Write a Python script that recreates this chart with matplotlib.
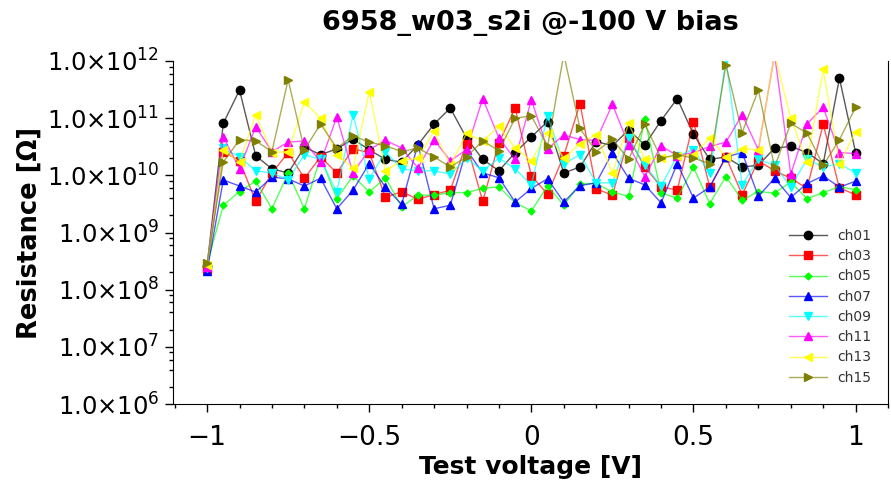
import math

import matplotlib
matplotlib.use("Agg")
import matplotlib.pyplot as plt
from matplotlib.ticker import MultipleLocator, FixedLocator, FuncFormatter, NullFormatter

plt.rcParams["font.family"] = ["DejaVu Sans"]
plt.rcParams["mathtext.default"] = "regular"

# test voltage [V]
VOLTAGE = [-1.00, -0.95, -0.90, -0.85, -0.80, -0.75, -0.70, -0.65, -0.60, -0.55,
           -0.50, -0.45, -0.40, -0.35, -0.30, -0.25, -0.20, -0.15, -0.10, -0.05,
           0.00, 0.05, 0.10, 0.15, 0.20, 0.25, 0.30, 0.35, 0.40, 0.45,
           0.50, 0.55, 0.60, 0.65, 0.70, 0.75, 0.80, 0.85, 0.90, 0.95, 1.00]

# resistance [Ohm] per channel
CH01 = [2.6e8, 8.1e10, 3.1e11, 2.2e10, 1.3e10, 1.1e10, 3.1e10, 2.3e10, 2.9e10, 4.3e10,
        2.8e10, 1.9e10, 1.7e10, 3.4e10, 7.9e10, 1.5e11, 4.5e10, 1.9e10, 1.2e10, 2.5e10,
        4.7e10, 8.7e10, 1.1e10, 1.4e10, 3.9e10, 3.3e10, 6.2e10, 3.4e10, 9.1e10, 2.2e11,
        5.2e10, 1.9e10, 2.1e10, 1.4e10, 1.5e10, 3.0e10, 3.2e10, 2.5e10, 1.6e10, 5.0e11, 2.5e10]
CH03 = [2.3e8, 2.6e10, 1.8e10, 3.5e9, 1.1e10, 2.5e10, 8.9e9, 2.1e10, 1.1e10, 2.9e10,
        2.5e10, 4.1e9, 5.2e9, 3.8e9, 4.6e9, 5.5e9, 3.6e10, 3.5e9, 3.7e10, 1.5e11,
        9.8e9, 4.7e9, 2.2e10, 1.8e11, 5.8e9, 4.5e9, 4.5e10, 1.4e10, 6.3e9, 5.5e9,
        8.7e10, 6.2e9, 2.1e10, 4.6e9, 1.8e10, 1.2e10, 8.9e9, 5.9e9, 7.8e10, 6.0e9, 4.6e9]
CH05 = [2.8e8, 3.0e9, 5.2e9, 7.9e9, 2.6e9, 1.1e10, 2.6e9, 2.1e10, 3.9e9, 9.8e9,
        5.1e9, 9.1e9, 2.8e9, 4.5e9, 4.5e9, 5.0e9, 5.0e9, 5.9e9, 6.3e9, 3.3e9,
        2.4e9, 6.5e9, 3.0e9, 7.1e9, 7.2e9, 5.1e9, 4.3e9, 9.5e10, 4.9e9, 4.0e9,
        1.4e10, 3.2e9, 9.5e9, 3.7e9, 5.2e9, 4.9e9, 7.6e9, 3.9e9, 5.0e9, 6.3e9, 5.6e9]
CH07 = [2.1e8, 8.3e9, 6.5e9, 5.1e9, 9.3e9, 8.7e9, 6.5e9, 8.9e9, 2.6e9, 5.5e9,
        1.6e10, 6.2e9, 3.1e9, 3.5e10, 2.6e9, 3.0e9, 2.8e10, 1.1e10, 9.1e9, 3.4e9,
        5.9e9, 8.7e9, 3.4e9, 6.6e9, 7.4e9, 2.5e10, 8.9e9, 6.8e9, 3.3e9, 1.6e10,
        4.0e9, 6.2e9, 2.1e10, 2.5e10, 4.3e9, 8.9e9, 4.1e9, 7.2e9, 9.8e9, 6.2e9, 7.9e9]
CH09 = [2.4e8, 3.0e10, 2.1e10, 1.2e10, 1.1e10, 8.3e9, 2.3e10, 1.9e10, 5.1e9, 1.15e11,
        8.7e9, 2.6e10, 1.3e10, 1.2e10, 1.2e10, 1.05e10, 2.0e10, 1.2e10, 2.0e10, 1.3e10,
        6.8e9, 1.1e11, 1.6e10, 2.3e10, 7.4e9, 7.4e9, 4.5e10, 1.5e10, 6.5e9, 2.2e10,
        2.8e10, 1.1e10, 1.1e12, 6.8e9, 1.9e10, 1.5e10, 6.3e9, 1.9e10, 1.4e10, 1.6e10, 1.1e10]
CH11 = [2.5e8, 4.7e10, 1.3e10, 7.1e10, 2.6e10, 3.8e10, 4.0e10, 1.7e10, 1.05e11, 1.1e10,
        2.8e10, 4.1e10, 3.0e10, 1.35e10, 4.2e10, 1.8e10, 2.8e10, 2.2e11, 4.5e10, 1.9e10,
        2.1e11, 2.9e10, 5.1e10, 4.2e10, 4.1e10, 1.75e11, 3.4e10, 9.5e9, 3.3e10, 2.2e10,
        2.5e10, 3.2e10, 3.8e10, 1.15e11, 2.8e10, 1.3e12, 1.05e10, 7.9e10, 1.55e11, 2.5e10, 2.4e10]
CH13 = [2.7e8, 2.8e10, 1.7e10, 1.15e11, 2.5e10, 2.6e10, 1.9e11, 1.0e11, 2.3e10, 1.35e10,
        2.9e11, 1.2e10, 1.8e10, 2.0e10, 5.9e10, 1.5e10, 5.4e10, 4.0e10, 7.2e10, 3.0e10,
        1.8e10, 5.6e10, 2.0e10, 3.6e10, 5.1e10, 1.1e10, 8.1e10, 1.9e10, 2.0e10, 2.2e10,
        2.3e10, 4.5e10, 2.1e10, 2.9e10, 2.8e10, 1.3e12, 1.0e11, 1.7e10, 7.1e11, 1.6e10, 5.8e10]
CH15 = [2.9e8, 1.7e10, 4.2e10, 4.0e10, 2.6e10, 4.7e11, 2.8e10, 7.9e10, 3.0e10, 4.9e10,
        3.8e10, 3.3e10, 2.6e10, 3.0e10, 2.1e10, 1.4e10, 2.1e10, 4.0e10, 2.7e10, 1.0e11,
        1.1e11, 3.2e10, 1.3e12, 6.6e10, 2.6e10, 4.3e10, 1.9e10, 7.9e10, 2.0e10, 2.3e10,
        2.0e10, 1.6e10, 8.5e11, 5.6e10, 3.1e11, 1.4e10, 8.1e10, 5.5e10, 1.5e10, 4.2e10, 1.55e11]

LABELS = ["ch01", "ch03", "ch05", "ch07", "ch09", "ch11", "ch13", "ch15"]
SERIES = [CH01, CH03, CH05, CH07, CH09, CH11, CH13, CH15]
COLORS = ["#000000", "#ff0000", "#00ff00", "#0000ff", "#00ffff", "#ff00ff", "#ffff00", "#808000"]
MARKERS = ["o", "s", "D", "^", "v", "^", "<", ">"]
MSIZES = [6, 6, 3.5, 5.5, 5.5, 5.5, 5.5, 5.5]

# decade ticks on the resistance axis
Y_MAJOR = [1e6, 1e7, 1e8, 1e9, 1e10, 1e11, 1e12]
Y_MINOR = [m * d for d in Y_MAJOR[:-1] for m in (2, 4, 6, 8)]


def rgba(hex_color, alpha):
    r, g, b = matplotlib.colors.to_rgb(hex_color)
    return (r, g, b, alpha)


def xfmt(v, pos):
    if abs(v) < 1e-9:
        return "0"
    return f"{v:g}".replace("-", "\u2212")


def yfmt(v, pos):
    return r"$1.0{\times}10^{%d}$" % round(math.log10(v))


fig = plt.figure(figsize=(8.91, 4.86), dpi=100)
ax = fig.add_axes([0.1942, 0.1687, 0.8025, 0.7058])

for vals, lab, c, m, ms in zip(SERIES, LABELS, COLORS, MARKERS, MSIZES):
    ax.plot(VOLTAGE, vals, color=rgba(c, 0.65), lw=1.0, marker=m, ms=ms,
            markerfacecolor=c, markeredgecolor=c, label=lab)

ax.set_yscale("log")
ax.set_ylim(1e6, 1e12)
ax.set_xlim(-1.105, 1.1)

ax.xaxis.set_major_locator(MultipleLocator(0.5))
ax.xaxis.set_minor_locator(MultipleLocator(0.1))
ax.xaxis.set_major_formatter(FuncFormatter(xfmt))
ax.yaxis.set_major_locator(FixedLocator(Y_MAJOR))
ax.yaxis.set_minor_locator(FixedLocator(Y_MINOR))
ax.yaxis.set_minor_formatter(NullFormatter())
ax.yaxis.set_major_formatter(FuncFormatter(yfmt))

ax.tick_params(axis="both", which="major", direction="out", length=6, width=1)
ax.tick_params(axis="both", which="minor", direction="out", length=3, width=1)
ax.tick_params(axis="x", which="major", labelsize=19, pad=9)
ax.tick_params(axis="y", which="major", labelsize=17.5, pad=4)
ax.tick_params(axis="y", which="both", right=False)
ax.spines["top"].set_visible(False)

ax.set_xlabel("Test voltage [V]", fontsize=18, fontweight="bold", va="top")
ax.xaxis.set_label_coords(0.5, -0.15)
ax.set_ylabel("Resistance [\u03a9]", fontsize=18.5, fontweight="bold")
ax.yaxis.set_label_coords(-0.182, 0.5)
ax.set_title("6958_w03_s2i @-100 V bias", fontsize=19.5, fontweight="bold", pad=22)

leg = ax.legend(loc="lower right", bbox_to_anchor=(0.985, 0.04), frameon=False,
                fontsize=10, handlelength=2.7, labelspacing=0.45, borderaxespad=0)
for t in leg.get_texts():
    t.set_color("#333333")

fig.savefig("out.png", dpi=100)
